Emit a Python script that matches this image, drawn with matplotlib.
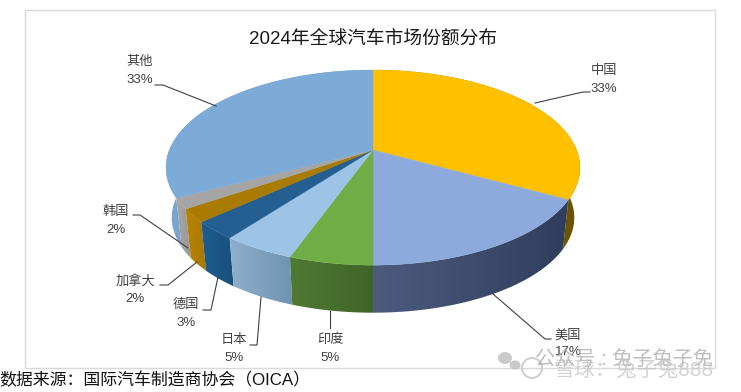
import numpy as np
import matplotlib
matplotlib.use("Agg")
import matplotlib.pyplot as plt
from matplotlib.patches import Polygon, Rectangle, Ellipse, Circle
from matplotlib.colors import LinearSegmentedColormap

plt.rcParams['font.family'] = ['Liberation Sans', 'Noto Sans CJK SC', 'DejaVu Sans']

title = "2024年全球汽车市场份额分布"
source = "数据来源：国际汽车制造商协会（OICA）"
names = ["中国", "美国", "印度", "日本", "德国", "加拿大", "韩国", "其他"]
labels = ["33%", "17%", "5%", "5%", "3%", "2%", "2%", "33%"]
shares = [33.0, 17.0, 5.5, 4.8, 3.0, 2.2, 1.8, 32.7]

top_colors = ["#FFC000", "#8EA9DB", "#70AD47", "#9DC3E6", "#255E91", "#A97B00", "#A5A5A5", "#7BABD6"]
side_left = ["#8a6a00", "#4d5b7e", "#4f7a33", "#8fb0cc", "#1f5c8f", "#b88500", "#a8a8a8", "#7aa6cf"]
side_right = ["#6b5200", "#2f3e5c", "#3f6428", "#6f92b0", "#194f7c", "#a87800", "#989898", "#6f9ac4"]

# label centre x, name y, percent y, leader line
label_pos = [
    (604, 71, 89, [(535, 103), (583, 92), (590, 92)]),
    (568, 335, 352, [(493, 294), (545, 339), (551, 339)]),
    (330, 340, 358, [(330, 311), (330, 328)]),
    (234, 340, 358, [(261, 297), (257, 345), (250, 345)]),
    (186, 305, 323, [(218, 277), (211, 310), (203, 310)]),
    (135, 281, 299, [(197, 262), (168, 285), (160, 285)]),
    (116, 212, 230, [(188, 248), (140, 215), (133, 215)]),
    (140, 62, 80, [(216, 106), (163, 85), (155, 85)]),
]

cx = 373
apex_top = 150
R_top = 203.6
b_top = 94.4
apex_bot = 200.5
R_bot = 198
b_bot = 92
k = 0.18


def rim(alpha, R, b, apex):
    # alpha in radians, clockwise from 12 o'clock, with perspective
    p = 1 / (1 + k * np.cos(alpha))
    return cx + R * np.sin(alpha) * p, apex - b * np.cos(alpha) * p


fig = plt.figure(figsize=(7.41, 3.92), dpi=100)
ax = fig.add_axes([0, 0, 1, 1])

ax.add_patch(Rectangle((25, 10), 690, 358, fill=False, ec="#d9d9d9", lw=1))

edges = np.concatenate([[0], np.cumsum(shares)]) / sum(shares) * 2 * np.pi

# side wall first, one gradient image per slice clipped to its band
for i in range(len(shares)):
    a = np.linspace(edges[i], edges[i + 1], 120)
    xt, yt = rim(a, R_top, b_top, apex_top)
    xb, yb = rim(a, R_bot, b_bot, apex_bot)
    band = np.column_stack([np.r_[xt, xb[::-1]], np.r_[yt, yb[::-1]]])
    poly = Polygon(band, closed=True, fc="none", ec="none", transform=ax.transData)
    ax.add_patch(poly)
    cmap = LinearSegmentedColormap.from_list("w%d" % i, [side_left[i], side_right[i]])
    grad = np.linspace(0, 1, 256).reshape(1, -1)
    # slices nearer the viewer go on top
    z = 1.5 - 0.4 * np.cos((edges[i] + edges[i + 1]) / 2)
    im = ax.imshow(grad, cmap=cmap, aspect='auto', interpolation='bilinear', zorder=z,
                   extent=[band[:, 0].min(), band[:, 0].max(), band[:, 1].max(), band[:, 1].min()])
    im.set_clip_path(poly)

# top surface
for i in range(len(shares)):
    a = np.linspace(edges[i], edges[i + 1], 120)
    x, y = rim(a, R_top, b_top, apex_top)
    pts = [(cx, apex_top)] + list(zip(x, y))
    ax.add_patch(Polygon(pts, closed=True, fc=top_colors[i], ec=top_colors[i], lw=0.3, zorder=2))

for i in range(len(names)):
    lx, ny, py, line = label_pos[i]
    ax.plot([p[0] for p in line], [p[1] for p in line], color="#404040", lw=0.8, zorder=3)
    ax.text(lx, ny, names[i], ha='center', va='center', fontsize=9.5, color="#404040")
    ax.text(lx, py, labels[i], ha='center', va='center', fontsize=9.5, color="#404040")

ax.text(373, 39, title, ha='center', va='center', fontsize=13.5, color="#1a1a1a")
ax.text(-1, 380, source, ha='left', va='center', fontsize=12.2, color="#111111")

# watermark
ax.add_patch(Ellipse((505, 358), 14, 12, fc="#bdbdbd", ec="none", alpha=0.8, zorder=4))
ax.add_patch(Ellipse((515, 365), 11, 9, fc="#bdbdbd", ec="none", alpha=0.8, zorder=4))
ax.add_patch(Circle((532, 368), 10, fc="none", ec="#d0d0d0", lw=1.5, zorder=4))
ax.text(535, 359, "公众号 : 兔子兔子免", ha='left', va='center', fontsize=14.5, color="#a8a8a8", alpha=0.75, zorder=5)
ax.text(553, 370, "雪球：兔子兔888", ha='left', va='center', fontsize=15, color="#c4c4c4", alpha=0.75, zorder=5)

ax.set_xlim(0, 741)
ax.set_ylim(392, 0)
ax.axis('off')

fig.savefig("out.png", dpi=100)
